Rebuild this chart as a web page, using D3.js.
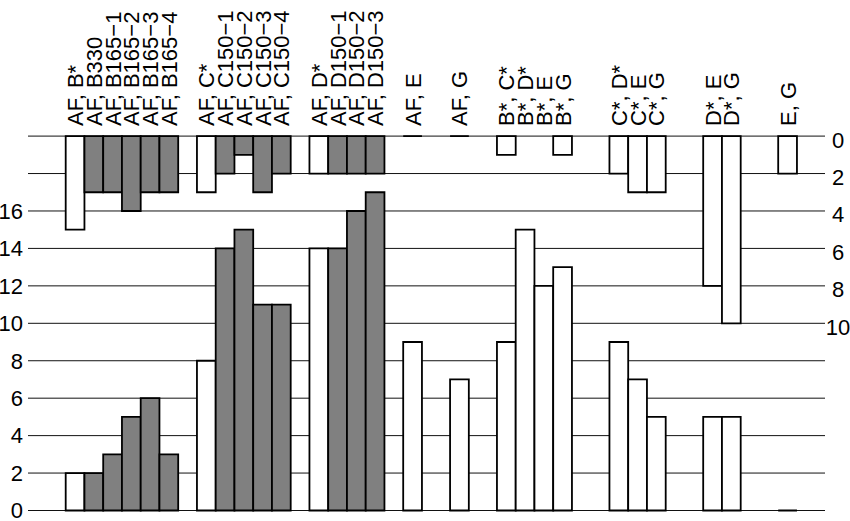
<!DOCTYPE html>
<html>
<head>
<meta charset="utf-8">
<script src="https://cdn.jsdelivr.net/npm/d3@7"></script>
<style>
  body { margin: 0; background: #fff; }
  svg text { font-family: "Liberation Sans", Arial, Helvetica, sans-serif; fill: #000; }
</style>
</head>
<body>
<div id="chart"></div>
<script>
// =======================
// DATA
// =======================
const groups = [
  ["AF, B*", "AF, B330", "AF, B165−1", "AF, B165−2", "AF, B165−3", "AF, B165−4"],
  ["AF, C*", "AF, C150−1", "AF, C150−2", "AF, C150−3", "AF, C150−4"],
  ["AF, D*", "AF, D150−1", "AF, D150−2", "AF, D150−3"],
  ["AF, E"],
  ["AF, G"],
  ["B*, C*", "B*, D*", "B*, E", "B*, G"],
  ["C*, D*", "C*, E", "C*, G"],
  ["D*, E", "D*, G"],
  ["E, G"]
];

// lower bars, read on the left axis
const bottomValues = [2, 2, 3, 5, 6, 3,  8, 14, 15, 11, 11,  14, 14, 16, 17,  9,  7,  9, 15, 12, 13,  9, 7, 5,  5, 5,  0];
// upper bars, hanging down, read on the right axis (null = no bar)
const topValues    = [5, 3, 3, 4, 3, 3,  3, 2, 1, 3, 2,  2, 2, 2, 2,  0,  0,  1, null, null, 1,  2, 3, 3,  8, 10,  2];

const leftTicks = [0, 2, 4, 6, 8, 10, 12, 14, 16];
const rightTicks = [0, 2, 4, 6, 8, 10];

// =======================
// LAYOUT
// =======================
const width = 850;
const height = 521;
const slot = 18.75;
const groupGaps = [1, 1, 1, 1.5, 1.5, 2, 2, 2];
const gridLeft = 28;
const gridRight = 825;

const bars = [];
let pos = 0;
groups.forEach((g, gi) => {
  if (gi > 0) pos += groupGaps[gi - 1];
  g.forEach(label => {
    const i = bars.length;
    bars.push({ label, pos, bottom: bottomValues[i], top: topValues[i] });
    pos += 1;
  });
});

const x = d3.scaleLinear().domain([0, pos]).range([65.7, 65.7 + pos * slot]);
const y = d3.scaleLinear().domain([0, 20]).range([510.5, 136.1]);
const yTop = d3.scaleLinear().domain([0, 20]).range([136.1, 510.5]);

const svg = d3.select('#chart')
  .append('svg')
  .attr('width', width)
  .attr('height', height);

// =======================
// GRID
// =======================
svg.append('g')
  .selectAll('line')
  .data(d3.range(0, 21, 2))
  .enter()
  .append('line')
  .attr('x1', gridLeft)
  .attr('x2', gridRight)
  .attr('y1', d => y(d))
  .attr('y2', d => y(d))
  .attr('stroke', '#111')
  .attr('stroke-width', 1);

// =======================
// AXES
// =======================
const leftAxis = svg.append('g')
  .attr('transform', `translate(${gridLeft},0)`)
  .call(d3.axisLeft(y).tickValues(leftTicks).tickSize(0).tickPadding(5));
leftAxis.select('.domain').remove();
leftAxis.selectAll('text')
  .attr('dy', '0.33em')
  .style('font-size', '22px');

const rightAxis = svg.append('g')
  .attr('transform', `translate(${gridRight},0)`)
  .call(d3.axisRight(yTop).tickValues(rightTicks).tickSize(0).tickPadding(13));
rightAxis.select('.domain').remove();
rightAxis.selectAll('text')
  .attr('text-anchor', 'middle')
  .attr('dy', '0.5em')
  .style('font-size', '22px');

// =======================
// BARS
// =======================
const barPath = (x0, y0, y1) => {
  const p = d3.path();
  p.rect(x0, Math.min(y0, y1), slot, Math.abs(y1 - y0));
  return p.toString();
};
const fillFor = d => /\d/.test(d.label) ? '#808080' : '#fff';

svg.append('g')
  .selectAll('path')
  .data(bars.filter(d => d.bottom != null))
  .enter()
  .append('path')
  .attr('d', d => barPath(x(d.pos), y(0), y(d.bottom)))
  .attr('fill', fillFor)
  .attr('stroke', '#000')
  .attr('stroke-width', 1.8);

svg.append('g')
  .selectAll('path')
  .data(bars.filter(d => d.top != null))
  .enter()
  .append('path')
  .attr('d', d => barPath(x(d.pos), yTop(0), yTop(d.top)))
  .attr('fill', fillFor)
  .attr('stroke', '#000')
  .attr('stroke-width', 1.8);

// =======================
// LABELS
// =======================
svg.append('g')
  .selectAll('text')
  .data(bars)
  .enter()
  .append('text')
  .attr('transform', d => `translate(${x(d.pos + 0.5) + 8},126) rotate(-90)`)
  .attr('text-anchor', 'start')
  .style('font-size', '22px')
  .text(d => d.label);
</script>
</body>
</html>
